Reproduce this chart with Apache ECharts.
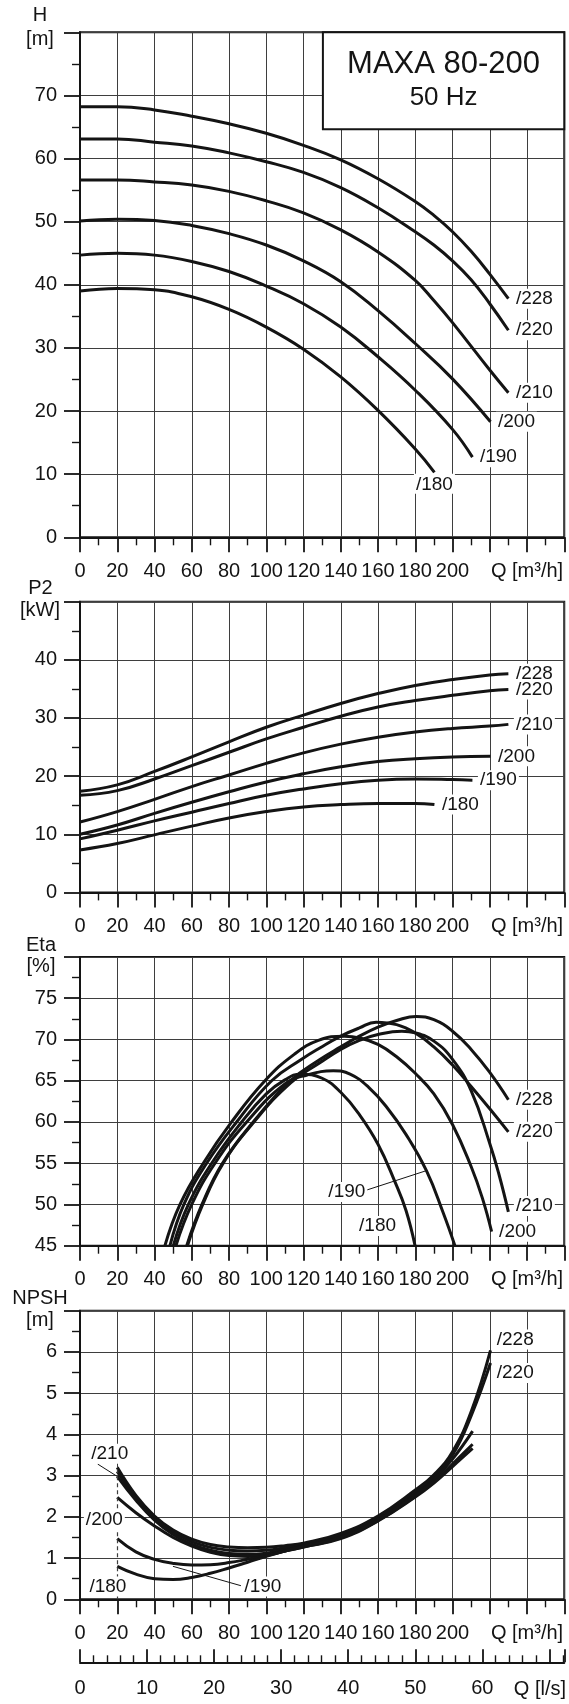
<!DOCTYPE html>
<html>
<head>
<meta charset="utf-8">
<script src="https://cdn.jsdelivr.net/npm/echarts@6/dist/echarts.min.js"></script>
<style>
  html, body { margin: 0; padding: 0; background: #ffffff; }
  #chart { width: 569px; height: 1704px; }
</style>
</head>
<body>
<div id="chart"></div>
<script>
// MAXA 80-200, 50 Hz performance curves for six impeller diameters.

const impellers = ['/228', '/220', '/210', '/200', '/190', '/180'];

// Tick labels
const flowLabels = [0, 20, 40, 60, 80, 100, 120, 140, 160, 180, 200];
const litreLabels = [0, 10, 20, 30, 40, 50, 60];
const headLabels = [0, 10, 20, 30, 40, 50, 60, 70];
const powerLabels = [0, 10, 20, 30, 40];
const etaLabels = [45, 50, 55, 60, 65, 70, 75];
const npshLabels = [0, 1, 2, 3, 4, 5, 6];

// Head H [m] against flow Q [m³/h]
const head228 = [[0,68.2],[20,68.2],[40,67.7],[60,66.7],[80,65.5],[100,64.0],[120,62.1],[140,59.8],[160,56.8],[180,53.2],[190,51.0],[200,48.4],[210,45.3],[220,41.7],[230,37.8]];
const head220 = [[0,63.1],[20,63.1],[40,62.6],[60,62.0],[80,60.9],[100,59.5],[120,57.8],[140,55.4],[160,52.2],[180,48.4],[190,46.3],[200,43.8],[210,40.8],[220,37.0],[230,32.8]];
const head210 = [[0,56.6],[20,56.6],[40,56.3],[60,55.8],[80,54.8],[100,53.3],[120,51.4],[140,48.7],[160,45.2],[180,40.7],[190,37.5],[200,34.0],[220,26.5],[230,22.9]];
const head200 = [[0,50.1],[20,50.4],[40,50.2],[60,49.4],[80,48.1],[100,46.3],[120,43.8],[140,40.5],[160,35.9],[180,30.7],[200,25.1],[220.4,18.3]];
const head190 = [[0,44.7],[20,45.0],[40,44.7],[60,43.7],[80,42.1],[100,39.8],[120,37.0],[140,33.3],[160,28.6],[180,23.3],[200,17.1],[210.7,12.7]];
const head180 = [[0,39.0],[20,39.4],[40,39.2],[60,38.1],[80,36.1],[100,33.3],[120,29.8],[140,25.4],[160,20.1],[180,14.0],[190.3,10.3]];

// Shaft power P2 [kW]
const power228 = [[0,17.4],[20,18.5],[40,20.8],[60,23.3],[80,25.9],[100,28.4],[120,30.5],[140,32.5],[160,34.2],[180,35.6],[200,36.6],[220,37.4],[230,37.6]];
const power220 = [[0,16.7],[20,17.5],[40,19.5],[60,21.8],[80,24.1],[100,26.4],[120,28.4],[140,30.3],[160,31.9],[180,33.0],[200,33.9],[220,34.7],[230,34.9]];
const power210 = [[0,12.1],[20,13.9],[40,16.0],[60,18.2],[80,20.2],[100,22.2],[120,24.0],[140,25.5],[160,26.7],[180,27.6],[200,28.2],[220,28.6],[230,28.9]];
const power200 = [[0,10.0],[20,11.6],[40,13.6],[60,15.5],[80,17.3],[100,19.0],[120,20.4],[140,21.6],[160,22.5],[180,23.0],[200,23.3],[220.4,23.4]];
const power190 = [[0,9.2],[20,10.7],[40,12.3],[60,13.8],[80,15.3],[100,16.7],[120,17.8],[140,18.7],[160,19.3],[180,19.5],[200,19.4],[210.7,19.3]];
const power180 = [[0,7.3],[20,8.4],[40,9.9],[60,11.4],[80,12.8],[100,13.9],[120,14.7],[140,15.1],[160,15.3],[180,15.3],[190.3,15.1]];

// Efficiency Eta [%]
const eta228 = [[57.3,45],[65.5,50],[76.5,55],[93,60],[113,65],[129,67.6],[140,69.1],[150,70.4],[160,71.5],[170,72.3],[180.6,72.8],[190,72.4],[200,71.0],[210,68.8],[220,66.0],[230,62.7]];
const eta220 = [[48.3,45],[55.8,50],[68,55],[84.1,60],[102.9,65],[119,67.6],[129,69.0],[140,70.4],[150,71.4],[159,72.1],[170,71.8],[180,70.8],[190,69.1],[200,66.9],[210,64.3],[220,61.6],[230,58.8]];
const eta210 = [[57.7,45],[65.9,50],[76.9,55],[93.4,60],[113.4,64.8],[129,67.2],[140,68.8],[150,69.9],[160,70.6],[172.8,71.0],[180,70.8],[190,69.8],[200,67.6],[210,63.8],[220,57.4],[225,53.6],[230,49.1]];
const eta200 = [[45.6,45],[53.7,50],[66.2,55],[81.4,60],[99.3,65],[115,68.2],[128,69.9],[142,70.4],[150,70.2],[160,69.4],[170,67.9],[180,65.9],[190,63.4],[200,59.7],[210,54.6],[216,50.8],[221,46.7]];
const eta190 = [[51.5,45],[60,50],[72.5,55],[89.5,60],[110,64.6],[122,65.7],[136,66.2],[145,65.8],[155,64.2],[165,61.7],[175,58.5],[186,54.1],[195,49.0],[201.3,45]];
const eta180 = [[50.1,45],[58.2,50],[70.7,55],[86.8,60],[100,63.4],[110,65.1],[118.4,65.8],[130,65.3],[140,63.6],[150,60.9],[160,57.3],[169,52.8],[175,49.3],[179.9,45]];

// NPSH required [m]
const npsh228 = [[20,3.20],[30,2.52],[40,2.02],[50,1.68],[60,1.46],[70,1.33],[80,1.27],[90,1.25],[100,1.26],[110,1.30],[120,1.36],[140,1.60],[160,2.02],[180,2.65],[190,3.02],[200,3.58],[210,4.55],[220.4,6.04]];
const npsh220 = [[20,3.10],[30,2.46],[40,1.97],[50,1.63],[60,1.40],[70,1.26],[80,1.19],[90,1.17],[100,1.19],[110,1.25],[120,1.32],[140,1.56],[160,1.98],[180,2.60],[190,2.97],[200,3.50],[210,4.45],[220.4,5.73]];
const npsh210 = [[20,2.98],[30,2.40],[40,1.92],[50,1.57],[60,1.34],[70,1.19],[80,1.11],[90,1.09],[100,1.12],[110,1.20],[120,1.29],[140,1.52],[160,1.94],[180,2.55],[190,2.90],[200,3.40],[210.8,4.08]];
const npsh200 = [[20,2.47],[30,2.10],[40,1.78],[50,1.50],[60,1.29],[70,1.14],[80,1.06],[90,1.04],[100,1.08],[110,1.17],[120,1.27],[140,1.49],[160,1.91],[180,2.50],[190,2.84],[200,3.28],[210.8,3.76]];
const npsh190 = [[20,1.47],[30,1.15],[40,0.97],[50,0.87],[60,0.83],[70,0.84],[80,0.89],[90,0.97],[100,1.06],[110,1.17],[120,1.27],[140,1.47],[160,1.90],[180,2.48],[190,2.82],[200,3.22],[210.8,3.66]];
const npsh180 = [[20,0.80],[30,0.61],[40,0.50],[50,0.48],[60,0.53],[70,0.63],[80,0.76],[90,0.90],[100,1.04],[110,1.17],[120,1.29],[140,1.50],[160,1.93],[180,2.52],[190,2.86]];

const headCurves = [head228, head220, head210, head200, head190, head180];
const powerCurves = [power228, power220, power210, power200, power190, power180];
const etaCurves = [eta228, eta220, eta210, eta200, eta190, eta180];
const npshCurves = [npsh228, npsh220, npsh210, npsh200, npsh190, npsh180];

// ---------------------------------------------------------------- styling
const FONT = '"Liberation Sans", Arial, Helvetica, sans-serif';
const INK = '#141414';
const RULE = '#3e3e3e';
const TICK_FONT = 20;
const TAG_FONT = 19;

const PLOT_LEFT = 80;
const PLOT_WIDTH = 484.25;
const panels = [
  { top: 32.3,   height: 505,   min: 0,  max: 80, step: 10, labels: headLabels },
  { top: 601.7,  height: 290.7, min: 0,  max: 50, step: 10, labels: powerLabels },
  { top: 957,    height: 288.7, min: 45, max: 80, step: 5,  labels: etaLabels },
  { top: 1310.7, height: 288.6, min: 0,  max: 7,  step: 1,  labels: npshLabels }
];

const TAG_STYLE = {
  fontSize: TAG_FONT, fontFamily: FONT, color: INK,
  backgroundColor: '#ffffff', padding: [1, 2, 0, 2]
};

function tag(text, coord, position, distance, offset) {
  return {
    coord: coord,
    symbol: 'circle', symbolSize: 1,
    itemStyle: { color: 'rgba(0,0,0,0)' },
    label: Object.assign({
      show: true, position: position, distance: distance,
      offset: offset || [0, 0], formatter: text
    }, TAG_STYLE)
  };
}

function last(arr) { return arr[arr.length - 1]; }

function curveSeries(name, data, axisIndex, tags, leaders) {
  const s = {
    type: 'line', name: name, data: data,
    xAxisIndex: axisIndex, yAxisIndex: axisIndex,
    smooth: 0.45, symbol: 'none', showSymbol: false,
    lineStyle: { color: INK, width: 3 },
    silent: true, animation: false, z: 4
  };
  if (tags && tags.length) {
    s.markPoint = { silent: true, animation: false, data: tags };
  }
  if (leaders && leaders.length) {
    s.markLine = {
      silent: true, animation: false, symbol: ['none', 'none'],
      label: { show: false },
      lineStyle: { color: INK, width: 1, type: 'solid' },
      data: leaders
    };
  }
  return s;
}

function leader(a, b, style) {
  return [Object.assign({ coord: a }, style ? { lineStyle: style } : {}),
          Object.assign({ coord: b }, style ? { lineStyle: style } : {})];
}

// ---------------------------------------------------------------- axes
const grid = panels.map(p => ({
  left: PLOT_LEFT, top: p.top, width: PLOT_WIDTH, height: p.height,
  show: true, borderColor: INK, borderWidth: 2, backgroundColor: 'rgba(0,0,0,0)'
}));

function flowAxis(gridIndex, splitColors) {
  return {
    type: 'value', gridIndex: gridIndex, min: 0, max: 260, interval: 20,
    axisLine: { show: true, onZero: false, lineStyle: { color: INK, width: 2 } },
    axisTick: { show: true, length: 15, lineStyle: { color: INK, width: 1.8 } },
    minorTick: { show: true, splitNumber: 2, length: 8, lineStyle: { color: INK, width: 1.4 } },
    axisLabel: {
      margin: 24, fontSize: TICK_FONT, fontFamily: FONT, color: INK,
      formatter: v => flowLabels.indexOf(v) >= 0 ? String(v) : (v === 240 ? 'Q [m³/h]' : '')
    },
    splitLine: { show: true, lineStyle: { color: splitColors || RULE, width: 1 } }
  };
}

function valueAxis(gridIndex, p) {
  return {
    type: 'value', gridIndex: gridIndex, min: p.min, max: p.max, interval: p.step,
    axisLine: { show: true, onZero: false, lineStyle: { color: INK, width: 2 } },
    axisTick: { show: true, length: 16, lineStyle: { color: INK, width: 1.8 } },
    minorTick: { show: true, splitNumber: 2, length: 8, lineStyle: { color: INK, width: 1.4 } },
    axisLabel: {
      margin: 23, fontSize: TICK_FONT, fontFamily: FONT, color: INK,
      formatter: v => p.labels.indexOf(v) >= 0 ? String(v) : ''
    },
    splitLine: { show: true, lineStyle: { color: RULE, width: 1 } }
  };
}

// In the NPSH panel the Q = 20 rule is drawn separately (solid above the curves, dashed below).
const npshSplitColors = Array.from({ length: 14 }, (_, i) => i === 1 ? 'rgba(0,0,0,0)' : RULE);

const xAxis = [
  flowAxis(0), flowAxis(1), flowAxis(2), flowAxis(3, npshSplitColors),
  {
    // flow in l/s below the NPSH panel
    type: 'value', gridIndex: 3, position: 'bottom', offset: 63,
    min: 0, max: 260 / 3.6, interval: 10,
    axisLine: { show: true, onZero: false, lineStyle: { color: INK, width: 2 } },
    axisTick: { show: true, inside: true, length: 13, lineStyle: { color: INK, width: 1.8 } },
    minorTick: { show: true, splitNumber: 5, length: 7, lineStyle: { color: INK, width: 1.4 } },
    axisLabel: {
      margin: 16, fontSize: TICK_FONT, fontFamily: FONT, color: INK,
      formatter: v => litreLabels.indexOf(v) >= 0 ? String(v) : ''
    },
    splitLine: { show: false }
  }
];
const yAxis = panels.map((p, i) => valueAxis(i, p));

// ---------------------------------------------------------------- series
const series = [];

// Head panel
headCurves.forEach((d, i) => {
  const name = impellers[i];
  const t = name === '/180' ? tag(name, last(d), 'bottom', 1) : tag(name, last(d), 'right', 5);
  series.push(curveSeries(name, d, 0, [t]));
});

// Power panel
powerCurves.forEach((d, i) => {
  series.push(curveSeries(impellers[i], d, 1, [tag(impellers[i], last(d), 'right', 5)]));
});

// Efficiency panel
etaCurves.forEach((d, i) => {
  const name = impellers[i];
  let tags = [], leaders = [];
  if (name === '/190') {
    tags = [tag(name, [132, 51.5], 'right', 0)];
    leaders = [leader([153.3, 51.7], [186, 54.1])];
  } else if (name === '/180') {
    tags = [tag(name, [148.5, 47.4], 'right', 0)];
  } else if (name === '/210') {
    tags = [tag(name, last(d), 'right', 5, [0, -6])];
  } else {
    tags = [tag(name, last(d), 'right', 5)];
  }
  series.push(curveSeries(name, d, 2, tags, leaders));
});

// NPSH panel
const npshTagAt = {
  '/228': [222.4, 6.30], '/220': [222.4, 5.49], '/210': [4.7, 3.53],
  '/200': [1.8, 1.92], '/190': [86.9, 0.31], '/180': [3.7, 0.31]
};
npshCurves.forEach((d, i) => {
  const name = impellers[i];
  const tags = [tag(name, npshTagAt[name], 'right', 0)];
  let leaders = [];
  if (name === '/210') leaders = [leader([9.5, 3.28], [20, 2.98])];
  if (name === '/190') leaders = [leader([86.4, 0.33], [49.9, 0.80])];
  if (name === '/180') {
    leaders = [
      leader([20, 3.2], [20, 7], { color: RULE, width: 1, type: 'solid' }),
      leader([20, 0], [20, 3.2], { color: RULE, width: 1.2, type: [4, 3] })
    ];
  }
  series.push(curveSeries(name, d, 3, tags, leaders));
});

// ---------------------------------------------------------------- texts
function text(str, x, y, size, align) {
  return {
    type: 'text', z: 20, silent: true,
    style: {
      text: str, x: x, y: y, fill: INK,
      font: size + 'px ' + FONT,
      fontSize: size, fontFamily: FONT,
      align: align || 'center', verticalAlign: 'middle',
      textAlign: align || 'center', textVerticalAlign: 'middle'
    }
  };
}

const graphic = [
  {
    type: 'rect', z: 15, silent: true,
    shape: { x: 322.9, y: 32.3, width: 564.25 - 322.9, height: 97 },
    style: { fill: '#ffffff', stroke: INK, lineWidth: 2 }
  },
  text('MAXA 80-200', 443.6, 64.5, 31),
  text('50 Hz', 443.6, 98, 26),
  text('H', 40, 15.5, TICK_FONT),
  text('[m]', 40, 39, TICK_FONT),
  text('P2', 40.5, 588.3, TICK_FONT),
  text('[kW]', 40, 610.5, TICK_FONT),
  text('Eta', 41, 945, TICK_FONT),
  text('[%]', 41, 966.7, TICK_FONT),
  text('NPSH', 40, 1298, TICK_FONT),
  text('[m]', 40, 1320, TICK_FONT),
  text('Q [l/s]', 566, 1689.3, TICK_FONT, 'right')
];

const chart = echarts.init(document.getElementById('chart'), null, { renderer: 'canvas' });
chart.setOption({
  animation: false,
  backgroundColor: '#ffffff',
  textStyle: { fontFamily: FONT },
  grid: grid,
  xAxis: xAxis,
  yAxis: yAxis,
  series: series,
  graphic: graphic
});
</script>
</body>
</html>
